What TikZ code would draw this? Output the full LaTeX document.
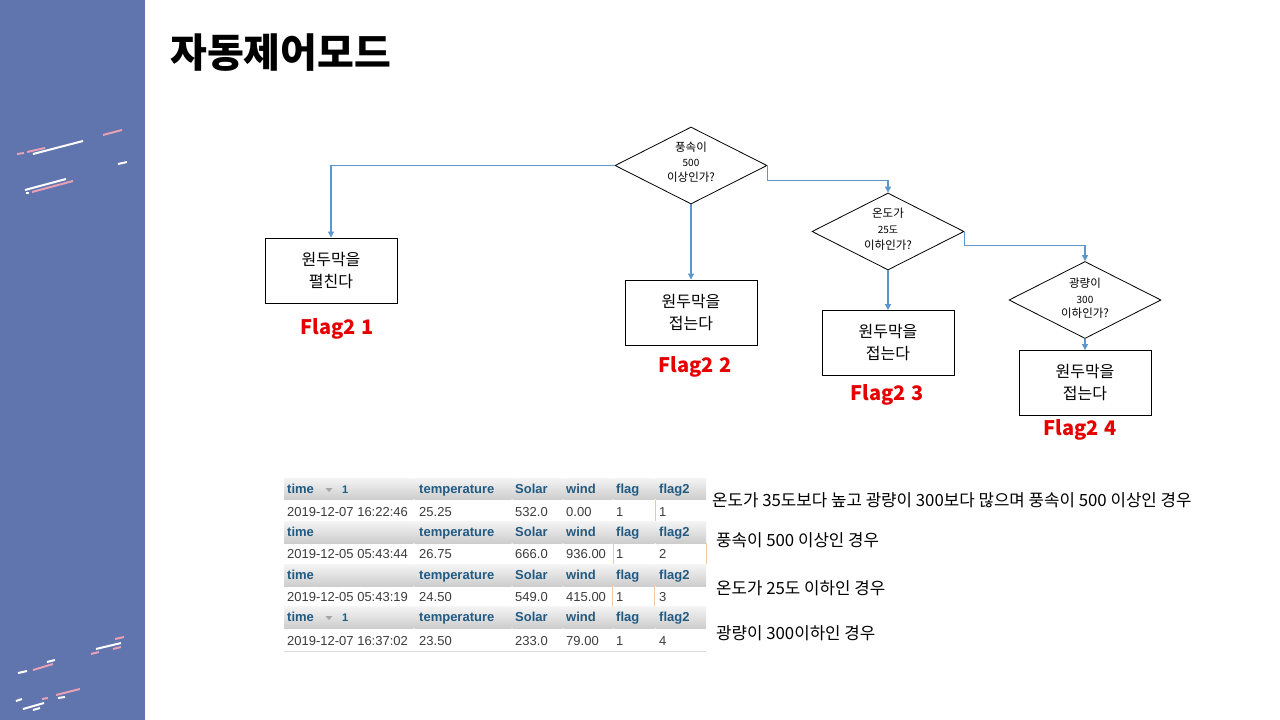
\documentclass[tikz,border=0pt]{standalone}
\usepackage{fontspec}
\setmainfont{Noto Sans CJK KR}
\newfontfamily\kr{Noto Sans CJK KR}
\newfontfamily\tb{Liberation Sans}
\usetikzlibrary{shapes.geometric,arrows.meta}
\definecolor{side}{RGB}{96,116,174}
\definecolor{deco}{RGB}{232,160,180}
\definecolor{conncol}{RGB}{91,150,205}
\definecolor{flagred}{RGB}{230,0,0}
\definecolor{hdrtxt}{RGB}{35,90,129}
\definecolor{cell}{RGB}{60,60,60}
\definecolor{hdrtop}{RGB}{244,244,244}
\definecolor{hdrbot}{RGB}{205,205,205}
\definecolor{orng}{RGB}{240,200,160}
\tikzset{
  dec/.style={line width=2pt},
  decw/.style={dec,white},
  decp/.style={dec,deco},
  dia/.style={draw=black,line width=0.8pt,diamond,minimum width=152pt,minimum height=77pt,inner sep=0pt},
  dtxt/.style={inner sep=0pt,font=\kr\fontsize{11.5}{13}\selectfont},
  dnum/.style={inner sep=0pt,font=\kr\fontsize{10}{12}\selectfont},
  actbox/.style={draw=black,line width=0.9pt,minimum width=132pt,minimum height=65pt,align=center,inner sep=0pt,font=\kr\fontsize{16}{22}\selectfont},
  flag/.style={text=flagred,font=\kr\bfseries\fontsize{20}{24}\selectfont,inner sep=0pt},
  conn/.style={draw=conncol,line width=1.1pt,-{Triangle[width=6pt,length=6pt]}},
  htxt/.style={anchor=base west,inner sep=0pt,text=hdrtxt,font=\tb\bfseries\fontsize{13}{15}\selectfont},
  ctxt/.style={anchor=base west,inner sep=0pt,text=cell,font=\tb\fontsize{13}{15}\selectfont},
  note/.style={anchor=west,inner sep=0pt,font=\kr\fontsize{16.8}{19}\selectfont},
}
\begin{document}
\begin{tikzpicture}[x=1pt,y=-1pt]
\useasboundingbox (0,0) rectangle (1280,720);
\fill[white] (0,0) rectangle (1280,720);
\fill[side] (0,0) rectangle (145,720);
% sidebar decorations
\draw[decp] (17,154) -- (24,153);
\draw[decp] (27,152) -- (45,148);
\draw[decw] (33,154) -- (83,141);
\draw[decp] (103,135) -- (122,130);
\draw[decw] (118,164) -- (127,162);
\draw[decw] (25,190) -- (66,179);
\draw[decp] (32,192) -- (73,181);
\draw[decw] (26,193) -- (29,193);
\draw[decp] (115,639) -- (124,637);
\draw[decw] (96,649) -- (121,643);
\draw[decp] (113,649) -- (121,647);
\draw[decp] (91,654) -- (99,652);
\draw[decw] (47,662) -- (55,660);
\draw[decp] (33,670) -- (53,664);
\draw[decw] (18,673) -- (27,671);
\draw[decp] (56,695) -- (80,689);
\draw[decw] (58,698) -- (65,697);
\draw[decp] (42,699) -- (48,698);
\draw[decw] (16,701) -- (22,699);
\draw[decw] (23,709) -- (44,703);
\draw[decw] (33,710) -- (40,708);
% title
\node[anchor=west,inner sep=0pt,font=\kr\bfseries\fontsize{40}{44}\selectfont] (title) at (170,53) {자동제어모드};
% diamonds
\node[dia] (d1) at (691,165.5) {};
\node[dtxt] (d1a) at (691,147) {풍속이};
\node[dnum] (d1b) at (691,163) {500};
\node[dtxt] (d1c) at (691,177) {이상인가?};
\node[dia] (d2) at (888,231.5) {};
\node[dtxt] (d2a) at (888,213) {온도가};
\node[dnum] (d2b) at (888,230) {25도};
\node[dtxt] (d2c) at (888,245) {이하인가?};
\node[dia] (d3) at (1085,300) {};
\node[dtxt] (d3a) at (1085,283) {광량이};
\node[dnum] (d3b) at (1085,300) {300};
\node[dtxt] (d3c) at (1085,313) {이하인가?};
% boxes
\node[actbox] (b1) at (331,270.5) {원두막을\\펼친다};
\node[actbox] (b2) at (691,312.5) {원두막을\\접는다};
\node[actbox] (b3) at (888,343) {원두막을\\접는다};
\node[actbox] (b4) at (1085,383) {원두막을\\접는다};
% flags
\node[flag] (f1) at (337,329) {Flag2\hspace{5pt}1};
\node[flag] (f2) at (695,367) {Flag2\hspace{5pt}2};
\node[flag] (f3) at (887,395) {Flag2\hspace{5pt}3};
\node[flag] (f4) at (1080,430) {Flag2\hspace{5pt}4};
% connectors
\draw[conn] (d1.west) -| (b1.north);
\draw[conn] (d1.south) -- (b2.north);
\draw[conn] (d1.east) -- ++(0,15) -| (d2.north);
\draw[conn] (d2.south) -- (b3.north);
\draw[conn] (d2.east) -- ++(0,14) -| (d3.north);
\draw[conn] (d3.south) -- (b4.north);
% table headers
\foreach \ya/\yb in {478/499.5, 521.5/543, 564.5/586, 606.5/628}{
  \foreach \xa/\xb in {284/413.5, 414.5/511.5, 512.5/562.5, 563.5/612.5, 613.5/654.5, 655.5/706}{
    \shade[top color=hdrtop,bottom color=hdrbot] (\xa,\ya) rectangle (\xb,\yb);
  }
}
\foreach \y in {493, 536, 579, 621}{
  \node[htxt] at (287,\y) {time};
  \node[htxt] at (419,\y) {temperature};
  \node[htxt] at (515,\y) {Solar};
  \node[htxt] at (566,\y) {wind};
  \node[htxt] at (616,\y) {flag};
  \node[htxt] at (659,\y) {flag2};
}
% sort markers
\foreach \y in {489.5, 617.5}{
  \fill[gray!70] (325.5,\y-1.5) -- (332.5,\y-1.5) -- (329,\y+2.5) -- cycle;
  \node[anchor=base west,inner sep=0pt,text=hdrtxt,font=\tb\bfseries\fontsize{11}{13}\selectfont] at (342,\y+3.5) {1};
}
% rows
\node[ctxt] at (287,516.5) {2019-12-07 16:22:46};
\node[ctxt] at (419,516.5) {25.25};
\node[ctxt] at (515,516.5) {532.0};
\node[ctxt] at (566,516.5) {0.00};
\node[ctxt] at (616,516.5) {1};
\node[ctxt] at (659,516.5) {1};
\node[ctxt] at (287,558.5) {2019-12-05 05:43:44};
\node[ctxt] at (419,558.5) {26.75};
\node[ctxt] at (515,558.5) {666.0};
\node[ctxt] at (566,558.5) {936.00};
\node[ctxt] at (616,558.5) {1};
\node[ctxt] at (659,558.5) {2};
\node[ctxt] at (287,601.5) {2019-12-05 05:43:19};
\node[ctxt] at (419,601.5) {24.50};
\node[ctxt] at (515,601.5) {549.0};
\node[ctxt] at (566,601.5) {415.00};
\node[ctxt] at (616,601.5) {1};
\node[ctxt] at (659,601.5) {3};
\node[ctxt] at (287,645.5) {2019-12-07 16:37:02};
\node[ctxt] at (419,645.5) {23.50};
\node[ctxt] at (515,645.5) {233.0};
\node[ctxt] at (566,645.5) {79.00};
\node[ctxt] at (616,645.5) {1};
\node[ctxt] at (659,645.5) {4};
\draw[orng,line width=0.7pt] (655.5,500) -- (655.5,521);
\draw[orng,line width=0.7pt] (613,543) -- (613,564);
\draw[orng,line width=0.7pt] (706,543) -- (706,564);
\draw[orng,line width=0.7pt] (612.5,586) -- (612.5,606);
\draw[orng,line width=0.7pt] (654.5,586) -- (654.5,606);
\draw[gray!30,line width=0.8pt] (284,651.5) -- (706,651.5);
% notes
\node[note] (n1) at (712,500) {온도가 35도보다 높고 광량이 300보다 많으며 풍속이 500 이상인 경우};
\node[note] (n2) at (716,540) {풍속이 500 이상인 경우};
\node[note] (n3) at (716,588) {온도가 25도 이하인 경우};
\node[note] (n4) at (716,633) {광량이 300이하인 경우};
\end{tikzpicture}
\end{document}
